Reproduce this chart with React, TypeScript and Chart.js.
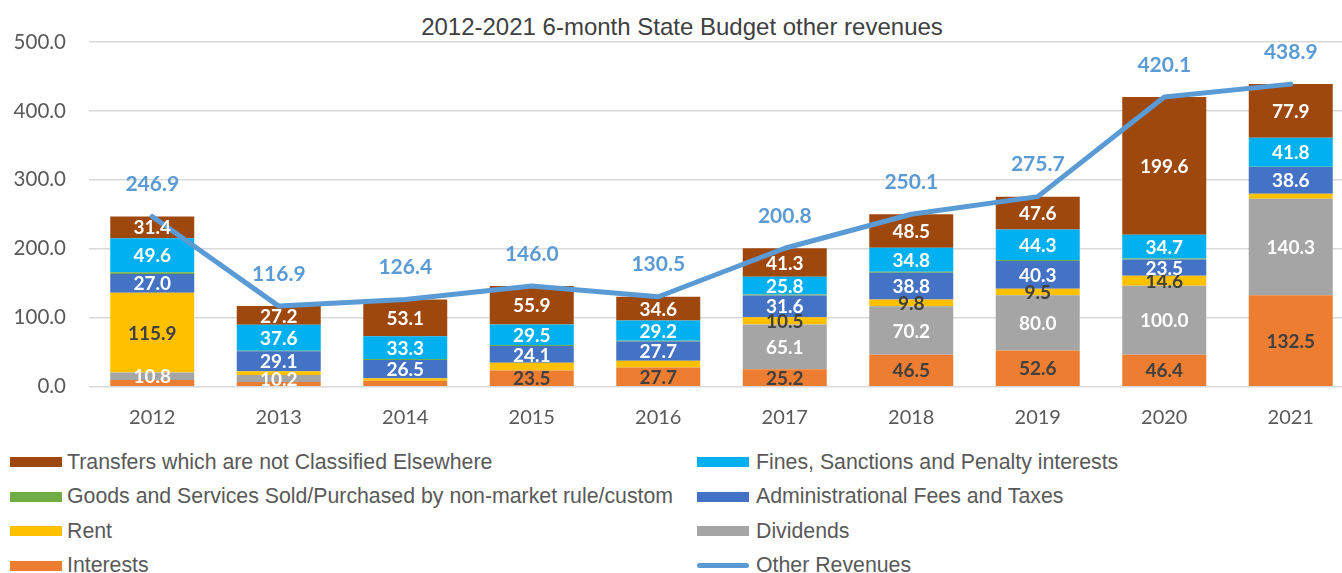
import React, { useEffect, useRef } from 'react';
import { Chart, registerables } from 'chart.js';

Chart.register(...registerables);

const years = ['2012', '2013', '2014', '2015', '2016', '2017', '2018', '2019', '2020', '2021'];
const interests = [9.7, 6.8, 8.7, 23.5, 27.7, 25.2, 46.5, 52.6, 46.4, 132.5];
const dividends = [10.8, 10.2, 0, 0, 0, 65.1, 70.2, 80.0, 100.0, 140.3];
const rent = [115.9, 5.5, 3.5, 11.3, 10.0, 10.5, 9.8, 9.5, 14.6, 7.2];
const adminFees = [27.0, 29.1, 26.5, 24.1, 27.7, 31.6, 38.8, 40.3, 23.5, 38.6];
const goodsServices = [2.5, 0.5, 1.3, 1.7, 1.3, 1.3, 1.5, 1.4, 1.3, 0.6];
const fines = [49.6, 37.6, 33.3, 29.5, 29.2, 25.8, 34.8, 44.3, 34.7, 41.8];
const transfers = [31.4, 27.2, 53.1, 55.9, 34.6, 41.3, 48.5, 47.6, 199.6, 77.9];
const otherRevenues = [246.9, 116.9, 126.4, 146.0, 130.5, 200.8, 250.1, 275.7, 420.1, 438.9];

// indexes whose segment labels are not shown in the reference
const hiddenInterestsLabels = [0, 1, 2];
const hiddenRentLabels = [1, 2, 3, 4, 9];

const yTicks = [0, 100, 200, 300, 400, 500];

const FONT = 'Lato, "Open Sans", sans-serif';
const LEGEND_FONT = '"Liberation Sans", Arial, sans-serif';

type Series = {
  name: string;
  data: number[];
  color: string;
  labelColor: string;
  hidden: number[] | 'all';
};

const barSeries: Series[] = [
  { name: 'Interests', data: interests, color: '#ED7D31', labelColor: '#404040', hidden: hiddenInterestsLabels },
  { name: 'Dividends', data: dividends, color: '#A5A5A5', labelColor: '#FFFFFF', hidden: [] },
  { name: 'Rent', data: rent, color: '#FFC000', labelColor: '#404040', hidden: hiddenRentLabels },
  { name: 'Administrational Fees and Taxes', data: adminFees, color: '#4472C4', labelColor: '#FFFFFF', hidden: [] },
  { name: 'Goods and Services Sold/Purchased by non-market rule/custom', data: goodsServices, color: '#70AD47', labelColor: '#FFFFFF', hidden: 'all' },
  { name: 'Fines, Sanctions and Penalty interests', data: fines, color: '#00B0F0', labelColor: '#FFFFFF', hidden: [] },
  { name: 'Transfers which are not Classified Elsewhere', data: transfers, color: '#9E480E', labelColor: '#FFFFFF', hidden: [] },
];

const lineName = 'Other Revenues';
const lineColor = '#5B9BD5';

const legendOrder = [
  'Transfers which are not Classified Elsewhere',
  'Fines, Sanctions and Penalty interests',
  'Goods and Services Sold/Purchased by non-market rule/custom',
  'Administrational Fees and Taxes',
  'Rent',
  'Dividends',
  'Interests',
  'Other Revenues',
];

const labelPlugin = {
  id: 'valueLabels',
  afterDatasetsDraw(chart: any) {
    const ctx = chart.ctx;
    ctx.save();
    ctx.textAlign = 'center';
    ctx.textBaseline = 'middle';
    chart.data.datasets.forEach((ds: any, di: number) => {
      const meta = chart.getDatasetMeta(di);
      meta.data.forEach((el: any, i: number) => {
        const v = ds.data[i];
        if (!v) return;
        if (ds.type === 'line') {
          const p = el.getProps(['x', 'y'], true);
          ctx.font = `bold 21px ${FONT}`;
          ctx.fillStyle = lineColor;
          ctx.fillText(v.toFixed(1), p.x, p.y - 32);
          return;
        }
        const s: Series = ds._series;
        if (s.hidden === 'all' || s.hidden.includes(i)) return;
        const p = el.getProps(['x', 'y', 'base'], true);
        ctx.font = `bold 19px ${FONT}`;
        ctx.fillStyle = s.labelColor;
        ctx.fillText(v.toFixed(1), p.x, (p.y + p.base) / 2 + 1);
      });
    });
    ctx.restore();
  },
};

function ChartCanvas() {
  const ref = useRef<HTMLCanvasElement>(null);
  useEffect(() => {
    if (!ref.current) return;
    const datasets: any[] = [
      {
        type: 'line',
        label: lineName,
        data: otherRevenues,
        borderColor: lineColor,
        backgroundColor: lineColor,
        borderWidth: 5,
        pointRadius: 0,
        fill: false,
        tension: 0,
        borderJoinStyle: 'round',
        borderCapStyle: 'round',
        stack: 'line',
        order: 0,
      },
      ...barSeries.map((s) => ({
        type: 'bar',
        label: s.name,
        data: s.data,
        backgroundColor: s.color,
        borderWidth: 0,
        stack: 'bars',
        order: 1,
        categoryPercentage: 1,
        barPercentage: 0.664,
        _series: s,
      })),
    ];
    const chart = new Chart(ref.current, {
      type: 'bar',
      data: { labels: years, datasets },
      options: {
        animation: false,
        responsive: false,
        devicePixelRatio: 1,
        layout: { padding: { left: 0, right: 26, top: 42, bottom: 0 } },
        plugins: { legend: { display: false }, tooltip: { enabled: false }, title: { display: false } },
        scales: {
          x: {
            stacked: true,
            grid: { display: false, drawTicks: false },
            border: { display: false },
            ticks: { color: '#595959', font: { family: FONT, size: 20 }, padding: 19 },
            afterFit: (scale: any) => {
              scale.height = 58.3;
            },
          },
          y: {
            stacked: true,
            min: 0,
            max: 500,
            afterBuildTicks: (scale: any) => {
              scale.ticks = yTicks.map((v) => ({ value: v }));
            },
            grid: { color: '#D9D9D9', lineWidth: 1.5, drawTicks: false },
            border: { display: false },
            ticks: {
              color: '#595959',
              font: { family: FONT, size: 20.5 },
              padding: 23,
              callback: (v: any) => Number(v).toFixed(1),
            },
            afterFit: (scale: any) => {
              scale.width = 89;
            },
          },
        },
      },
      plugins: [labelPlugin],
    } as any);
    return () => chart.destroy();
  }, []);
  return <canvas ref={ref} width={1380} height={445} style={{ position: 'absolute', left: 0, top: 0, width: 1380, height: 445 }} />;
}

function Legend() {
  const colorOf = (name: string) => {
    const s = barSeries.find((b) => b.name === name);
    return s ? s.color : lineColor;
  };
  const rowsY = [462, 496.5, 531, 565.5];
  return (
    <>
      {legendOrder.map((name, idx) => {
        const col = idx % 2;
        const row = Math.floor(idx / 2);
        const left = col === 0 ? 10 : 697;
        const isLine = name === lineName;
        return (
          <div
            key={name}
            style={{
              position: 'absolute',
              left,
              top: rowsY[row] - 15,
              height: 30,
              display: 'flex',
              alignItems: 'center',
              whiteSpace: 'nowrap',
              fontFamily: LEGEND_FONT,
              fontSize: 21.3,
              color: '#595959',
            }}
          >
            <span
              style={{
                display: 'inline-block',
                width: 52,
                height: isLine ? 5 : 10,
                borderRadius: isLine ? 3 : 0,
                background: colorOf(name),
                marginRight: col === 0 ? 5 : 7,
              }}
            />
            <span>{name}</span>
          </div>
        );
      })}
    </>
  );
}

export default function App() {
  return (
    <div style={{ position: 'fixed', left: 0, top: 0, width: 1342, height: 573, overflow: 'hidden', background: '#fff' }}>
      <div
        style={{
          position: 'absolute',
          left: 0,
          width: 1364,
          top: 12,
          height: 30,
          lineHeight: '30px',
          textAlign: 'center',
          fontFamily: LEGEND_FONT,
          fontSize: 24,
          color: '#404040',
          whiteSpace: 'nowrap',
        }}
      >
        2012-2021 6-month State Budget other revenues
      </div>
      <ChartCanvas />
      <Legend />
    </div>
  );
}
